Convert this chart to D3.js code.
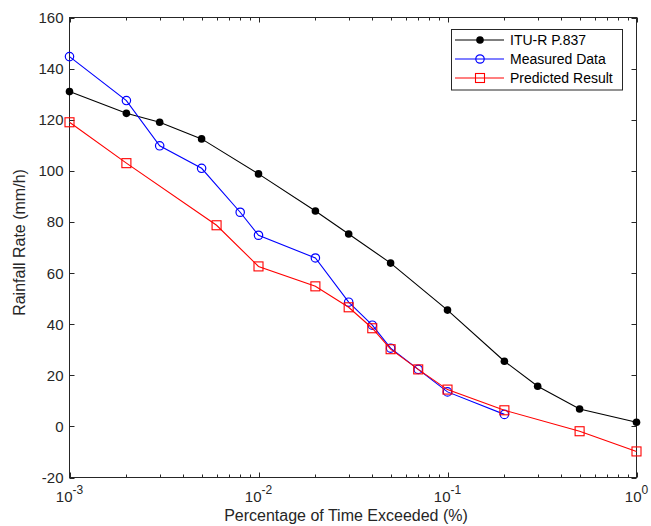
<!DOCTYPE html>
<html><head><meta charset="utf-8">
<script src="https://cdn.jsdelivr.net/npm/d3@7"></script>
<style>body{margin:0;background:#fff;} svg{display:block;font-family:"Liberation Sans",Arial,sans-serif;}</style>
</head><body><svg id="c" width="651" height="526"></svg>
<script>
const ituX = [0.001,0.002,0.003,0.005,0.01,0.02,0.03,0.05,0.1,0.2,0.3,0.5,1];
const ituY = [131,122.5,119,112.5,98.8,84.3,75.3,63.9,45.5,25.5,15.7,6.8,1.6];
const measX = [0.001,0.002,0.003,0.005,0.008,0.01,0.02,0.03,0.04,0.05,0.07,0.1,0.2];
const measY = [144.7,127.5,109.8,101,83.8,74.8,65.9,48.6,39.6,30.6,22.3,13.5,4.7];
const predX = [0.001,0.002,0.006,0.01,0.02,0.03,0.04,0.05,0.07,0.1,0.2,0.5,1];
const predY = [119,103,78.7,62.6,54.8,46.6,38.4,30.2,22.3,14.4,6.3,-1.9,-9.8];
const yTicks = [-20,0,20,40,60,80,100,120,140,160];
const xTicks = [0.001,0.01,0.1,1];
const xExp = ["-3","-2","-1","0"];
const seriesNames = ["ITU-R P.837","Measured Data","Predicted Result"];
const seriesColors = ["#000000","#0000ff","#ff0000"];

const L=69.5,R=636.5,T=17.5,B=477.5;
const svg=d3.select("#c");
const x=d3.scaleLog().domain([0.001,1]).range([L,R]);
const y=d3.scaleLinear().domain([-20,160]).range([B,T]);
const axisCol="#262626";
const minor=[];
for(let e=-3;e<0;e++){for(let k=2;k<=9;k++)minor.push(k*Math.pow(10,e));}

// box
svg.append("rect").attr("x",L).attr("y",T).attr("width",R-L).attr("height",B-T)
  .attr("fill","none").attr("stroke",axisCol).attr("stroke-width",1);
const g=svg.append("g").attr("stroke",axisCol).attr("stroke-width",1);
yTicks.forEach(v=>{const yy=Math.round(y(v))+0.5;
  g.append("line").attr("x1",L).attr("x2",L+5).attr("y1",yy).attr("y2",yy);
  g.append("line").attr("x1",R).attr("x2",R-5).attr("y1",yy).attr("y2",yy);});
xTicks.forEach(v=>{const xx=Math.round(x(v))+0.5;
  g.append("line").attr("x1",xx).attr("x2",xx).attr("y1",B).attr("y2",B-5);
  g.append("line").attr("x1",xx).attr("x2",xx).attr("y1",T).attr("y2",T+5);});
minor.forEach(v=>{const xx=Math.round(x(v))+0.5;
  g.append("line").attr("x1",xx).attr("x2",xx).attr("y1",B).attr("y2",B-3);
  g.append("line").attr("x1",xx).attr("x2",xx).attr("y1",T).attr("y2",T+3);});

// tick labels
yTicks.forEach(v=>{svg.append("text").attr("x",L-6).attr("y",y(v)+5.5).attr("text-anchor","end")
  .attr("font-size",15).attr("fill",axisCol).text(v);});
xTicks.forEach((v,i)=>{const t=svg.append("text").attr("x",x(v)).attr("y",502).attr("text-anchor","middle")
  .attr("font-size",15).attr("fill",axisCol);
  t.append("tspan").text("10");
  t.append("tspan").attr("dy",-8).attr("font-size",12).text(xExp[i]);});

svg.append("text").attr("x",(L+R)/2-7).attr("y",521).attr("text-anchor","middle").attr("font-size",16)
  .attr("fill",axisCol).text("Percentage of Time Exceeded (%)");
svg.append("text").attr("transform",`translate(25,${(T+B)/2-5}) rotate(-90)`).attr("text-anchor","middle")
  .attr("font-size",16).attr("fill",axisCol).text("Rainfall Rate (mm/h)");

const line=d3.line().x(d=>x(d[0])).y(d=>y(d[1]));
const series=[d3.zip(ituX,ituY),d3.zip(measX,measY),d3.zip(predX,predY)];
function marker(sel,i,cx,cy){
  if(i===0) sel.append("circle").attr("cx",cx).attr("cy",cy).attr("r",3.8).attr("fill","#000");
  else if(i===1) sel.append("circle").attr("cx",cx).attr("cy",cy).attr("r",4.2).attr("fill","none").attr("stroke","#0000ff").attr("stroke-width",1.2);
  else sel.append("rect").attr("x",cx-4.5).attr("y",cy-4.5).attr("width",9).attr("height",9).attr("fill","none").attr("stroke","#ff0000").attr("stroke-width",1.1);
}
series.forEach((s,i)=>{
  svg.append("path").datum(s).attr("d",line).attr("fill","none").attr("stroke",seriesColors[i]).attr("stroke-width",1.1);
  const mg=svg.append("g");
  s.forEach(d=>marker(mg,i,x(d[0]),y(d[1])));
});

// legend
svg.append("rect").attr("x",451.5).attr("y",29.5).attr("width",171).attr("height",60.5)
  .attr("fill","#fff").attr("stroke",axisCol).attr("stroke-width",1);
seriesNames.forEach((n,i)=>{const ly=40+i*19;
  svg.append("line").attr("x1",455).attr("x2",504).attr("y1",ly).attr("y2",ly).attr("stroke",seriesColors[i]).attr("stroke-width",1.1);
  marker(svg,i,480,ly);
  svg.append("text").attr("x",510).attr("y",ly+5).attr("font-size",14).attr("fill","#000").text(n);});
</script></body></html>
